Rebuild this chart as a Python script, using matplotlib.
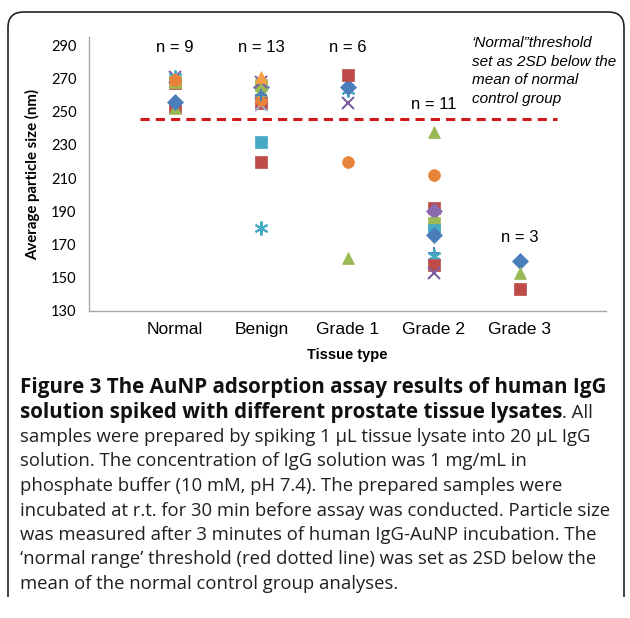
# AuNP adsorption assay - particle size by tissue type

import matplotlib
matplotlib.use('Agg')
import matplotlib.pyplot as plt
from matplotlib.patches import FancyBboxPatch
from matplotlib.transforms import Bbox

# data
categories = ['Normal', 'Benign', 'Grade 1', 'Grade 2', 'Grade 3']
n_labels = ['n = 9', 'n = 13', 'n = 6', 'n = 11', 'n = 3']
n_label_y = [288.5, 288.5, 288.5, 254.5, 174.5]

normal_vals = [253, 252, 256, 267, 268, 271, 271, 270, 269]
normal_kind = ['red_s', 'green_t', 'blue_d', 'red_s', 'green_s', 'purple_x', 'teal_a', 'orange_t', 'orange_o']

benign_vals = [220, 232, 180, 255, 254, 257, 262, 263, 265, 266, 260, 268, 271]
benign_kind = ['red_s', 'teal_s', 'teal_a', 'red_s', 'grey_x', 'orange_o', 'purple_x', 'green_t',
               'blue_d', 'green_s', 'blue_p', 'purple_x', 'orange_t']

grade1_vals = [162, 220, 255, 263, 265, 272]
grade1_kind = ['green_t', 'orange_o', 'purple_x', 'teal_a', 'blue_d', 'red_s']

grade2_vals = [238, 212, 192, 190, 183, 179, 176, 165, 163, 158, 153]
grade2_kind = ['green_t', 'orange_o', 'red_s', 'purple_d', 'green_s', 'teal_s', 'blue_d',
               'blue_p', 'teal_a', 'red_s', 'purple_x']

grade3_vals = [160, 153, 143]
grade3_kind = ['blue_d', 'green_t', 'red_s']

threshold = 245.5

# excel-like marker styles
STYLES = {
    'blue_d': ('D', '#4A7EBB'),
    'red_s': ('s', '#BE4B48'),
    'green_t': ('^', '#98B954'),
    'green_s': ('s', '#98B954'),
    'purple_x': ('x', '#7D60A0'),
    'purple_d': ('D', '#8A6BB0'),
    'grey_x': ('x', '#9AAFD6'),
    'teal_a': ((6, 2, 0), '#46AAC5'),
    'teal_s': ('s', '#46AAC5'),
    'orange_o': ('o', '#E8843A'),
    'orange_t': ('^', '#F6A045'),
    'blue_p': ('+', '#4A7EBB'),
}

fig = plt.figure(figsize=(6.3, 6.18), dpi=100)

# rounded frame around the figure panel (bottom cut off)
frame = FancyBboxPatch((8 / 630, -40 / 618), 616 / 630, (606 + 40) / 618,
                       boxstyle='round,pad=0,rounding_size=0.025',
                       transform=fig.transFigure, fill=False, ec='#222222', lw=1.2)
fig.patches.append(frame)
frame.set_clip_box(Bbox([[0, 618 - 597], [630, 618]]))

ax = fig.add_axes([89 / 630, (618 - 311) / 618, 517 / 630, (311 - 37) / 618])

all_vals = [normal_vals, benign_vals, grade1_vals, grade2_vals, grade3_vals]
all_kind = [normal_kind, benign_kind, grade1_kind, grade2_kind, grade3_kind]
for i, (vals, kinds) in enumerate(zip(all_vals, all_kind)):
    for v, k in zip(vals, kinds):
        m, c = STYLES[k]
        lw = 1.5 if m in ('x', '+') or isinstance(m, tuple) else 0.5
        ms = 10 if isinstance(m, tuple) else 8.5
        ax.plot(i + 1, v, marker=m, ms=ms, color=c, mec=c, mew=lw, ls='none', clip_on=False)

ax.plot([0.59, 5.43], [threshold, threshold], color='#D0191B', lw=2.2, ls=(0, (3, 2)))

for i, (lab, yy) in enumerate(zip(n_labels, n_label_y)):
    ax.text(i + 1, yy, lab, ha='center', va='center', fontsize=12, family='Liberation Sans')

ax.text(4.44, 295.5, '\u2018Normal\u201dthreshold\nset as 2SD below the\nmean of normal\ncontrol group',
        ha='left', va='top', fontsize=11, style='italic', family='Liberation Sans', linespacing=1.42)

ax.set_xlim(0, 6)
ax.set_ylim(130, 295)
ax.set_yticks(range(130, 291, 20))
ax.set_xticks(range(1, 6))
ax.set_xticklabels(categories, fontsize=12.6, family='Liberation Sans')
ax.tick_params(axis='y', length=0, pad=9, labelsize=10.5)
ax.tick_params(axis='x', length=0, pad=8)
for lab in ax.get_yticklabels():
    lab.set_family('Lato')
for s in ['top', 'right']:
    ax.spines[s].set_visible(False)
for s in ['left', 'bottom']:
    ax.spines[s].set_color('#A6A6A6')
    ax.spines[s].set_linewidth(1.0)

ax.set_xlabel('Tissue type', fontsize=10.5, fontweight='bold', family='Liberation Sans', labelpad=8)
ax.set_ylabel('Average particle size (nm)', fontsize=10.8, fontweight='bold', family='Lato', labelpad=8)

# caption
reg_font = dict(family='Open Sans', fontsize=13.3)
bold_font = dict(family='Open Sans', fontsize=14.9, fontweight='bold')
line_y = [388, 412.5, 437, 461.5, 486, 510.5, 535, 559.5, 584]
fig.text(20 / 630, 1 - line_y[0] / 618, 'Figure 3 The AuNP adsorption assay results of human IgG',
         va='center', color='#111111', **bold_font)
t2 = fig.text(20 / 630, 1 - line_y[1] / 618, 'solution spiked with different prostate tissue lysates',
              va='center', color='#111111', **bold_font)
ax.annotate('. All', xy=(1, 0.5), xycoords=t2, va='center', ha='left', color='#231F20', **reg_font)
rest = [
    'samples were prepared by spiking 1 \u00b5L tissue lysate into 20 \u00b5L IgG',
    'solution. The concentration of IgG solution was 1 mg/mL in',
    'phosphate buffer (10 mM, pH 7.4). The prepared samples were',
    'incubated at r.t. for 30 min before assay was conducted. Particle size',
    'was measured after 3 minutes of human IgG-AuNP incubation. The',
    '\u2018normal range\u2019 threshold (red dotted line) was set as 2SD below the',
    'mean of the normal control group analyses.',
]
for txt, yy in zip(rest, line_y[2:]):
    fig.text(20 / 630, 1 - yy / 618, txt, va='center', color='#231F20', **reg_font)

fig.savefig('out.png', dpi=100)
